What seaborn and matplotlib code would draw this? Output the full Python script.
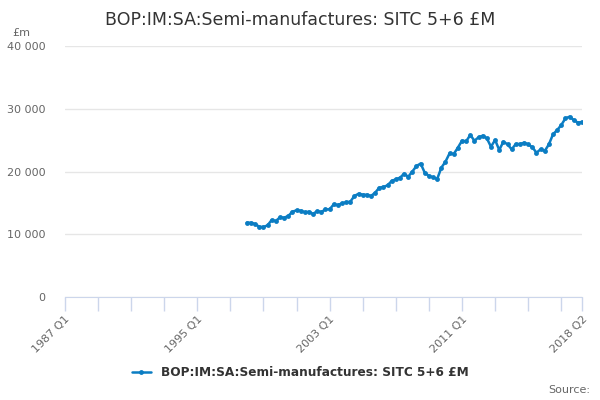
import matplotlib

matplotlib.use("Agg")
import matplotlib.pyplot as plt
import numpy as np
import pandas as pd
import seaborn as sns

# ── Dados ────────────────────────────────────────────────
series_name = "BOP:IM:SA:Semi-manufactures: SITC 5+6 £M"
first_year, last_year, last_quarter = 1987, 2018, 2
data_start = "1998 Q1"
values = [
    11840, 11840, 11630, 11200, 11150, 11420, 12270, 12110,
    12700, 12640, 12900, 13600, 13810, 13760, 13500, 13600,
    13230, 13700, 13550, 13970, 13970, 14770, 14660, 14930,
    15090, 15190, 16100, 16460, 16300, 16300, 16100, 16620,
    17420, 17530, 17800, 18490, 18760, 19000, 19650, 19170,
    20000, 20880, 21270, 19800, 19300, 19070, 18800, 20610,
    21560, 22900, 22790, 23800, 24910, 24810, 25820, 24910,
    25450, 25710, 25290, 23950, 25020, 23430, 24750, 24330,
    23540, 24380, 24380, 24590, 24330, 23860, 23000, 23540,
    23270, 24330, 25930, 26610, 27410, 28480, 28740, 28210,
    27780, 27890,
]
tick_labels = ["1987 Q1", "1995 Q1", "2003 Q1", "2011 Q1", "2018 Q2"]
y_ticks = [0, 10000, 20000, 30000, 40000]

quarters = [
    f"{y} Q{q}"
    for y in range(first_year, last_year + 1)
    for q in range(1, 5)
    if not (y == last_year and q > last_quarter)
]
start = quarters.index(data_start)
df = pd.DataFrame({"periodo": quarters[start:], "valor": values})
df["pos"] = [quarters.index(p) for p in df["periodo"]]

# ── Estilo ───────────────────────────────────────────────
sns.set_style("white")
plt.rcParams["font.family"] = ["DejaVu Sans"]
blue = "#0b7dc3"
axis_col = "#ccd6eb"
label_col = "#666666"

fig = plt.figure(figsize=(6, 4), dpi=100)
ax = fig.add_axes([0.108, 0.2575, 0.862, 0.6275])

sns.lineplot(
    data=df,
    x="pos",
    y="valor",
    ax=ax,
    color=blue,
    linewidth=1.8,
    marker="o",
    markersize=3.5,
    markeredgewidth=0,
    label=series_name,
)

ax.set_xlim(0, len(quarters) - 1)
ax.set_ylim(0, 40000)
ax.set_yticks(y_ticks)
ax.set_yticklabels([f"{v:,}".replace(",", " ") for v in y_ticks],
                   fontsize=8, color=label_col)
ax.yaxis.grid(True, color="#e6e6e6", linewidth=1)
ax.tick_params(axis="y", left=False, length=0, pad=14)

major = list(range(0, len(quarters), 8)) + [len(quarters) - 1]
ax.set_xticks(major)
ax.set_xticklabels(
    [p if p in tick_labels else "" for p in (quarters[i] for i in major)],
    rotation=45, ha="right", rotation_mode="anchor",
    fontsize=8, color=label_col,
)
ax.tick_params(axis="x", bottom=True, direction="out", length=10,
               color=axis_col, width=1, pad=2)

for side in ["top", "right", "left"]:
    ax.spines[side].set_visible(False)
ax.spines["bottom"].set_color(axis_col)
ax.set_xlabel("")
ax.set_ylabel("")

fig.text(0.5, 0.950, series_name, ha="center", va="center",
         fontsize=12.5, color="#333333")
fig.text(0.02, 0.918, "£m", ha="left", va="center", fontsize=8,
         color=label_col)
fig.text(0.983, 0.025, "Source:", ha="right", va="center", fontsize=8,
         color=label_col)

ax.legend(
    loc="center", bbox_to_anchor=(0.5, 0.068), bbox_transform=fig.transFigure,
    frameon=False, handlelength=1.6,
    prop={"weight": "bold", "size": 8.7},
    labelcolor="#333333",
)

fig.savefig("out.png", dpi=100)
